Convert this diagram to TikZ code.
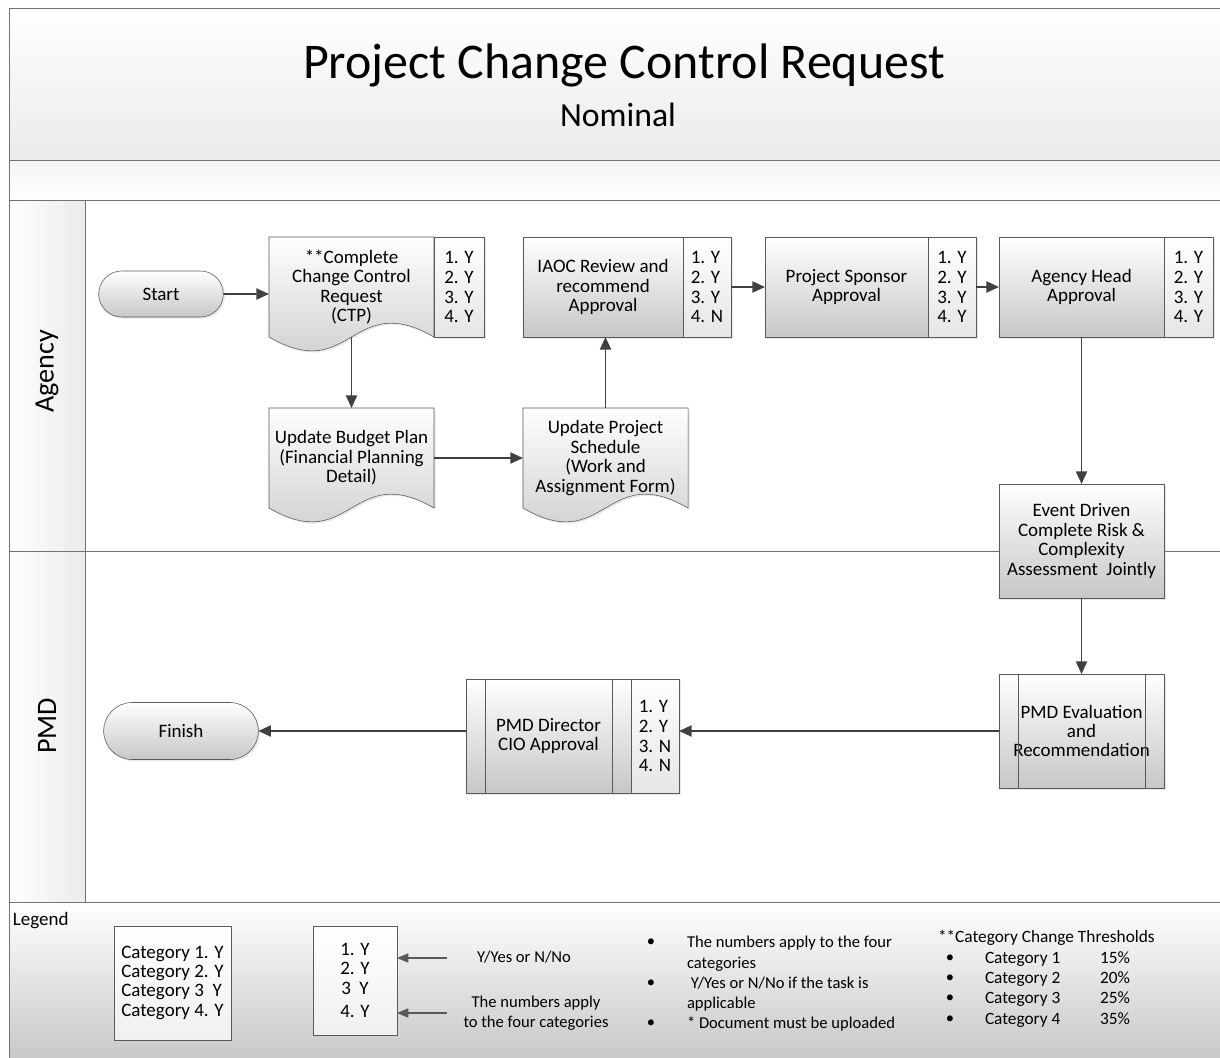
\documentclass[tikz,border=0pt]{standalone}
\usepackage{fontspec}
\setmainfont{Carlito}
\usetikzlibrary{positioning,arrows.meta,shapes.misc,shadows,backgrounds}

\begin{document}
\begin{tikzpicture}[x=0.025cm,y=-0.025cm,
  every node/.style={outer sep=0pt},
  txt/.style={font=\fontsize{13.5}{13.8}\selectfont, align=center},
  frame/.style={draw=black!55, line width=0.6pt},
  grad/.style={top color=white, bottom color=black!22,
    drop shadow={shadow xshift=1.2pt, shadow yshift=-1.2pt, opacity=0.18}},
  term/.style={rounded rectangle, draw=black!65, grad, txt},
  task/.style={rectangle, draw=black!65, grad, txt, minimum width=4.125cm, minimum height=2.85cm},
  doc/.style={rectangle, txt, minimum width=4.125cm, minimum height=2.5cm},
  docshape/.style={draw=black!65, grad},
  yn/.style={rectangle, draw=black!65, top color=white, bottom color=black!10,
    drop shadow={shadow xshift=1.2pt, shadow yshift=-1.2pt, opacity=0.18},
    font=\fontsize{13.5}{14.2}\selectfont, align=left, anchor=north west,
    minimum width=1.2cm, minimum height=2.5cm},
  flow/.style={draw=black!75, line width=1.1pt, -{Triangle[length=9pt,width=8pt]}},
  legbox/.style={rectangle, draw=black!65, top color=white, bottom color=black!6,
    drop shadow={shadow xshift=1pt, shadow yshift=-1pt, opacity=0.15},
    font=\fontsize{13.5}{13.6}\selectfont, align=left},
  legarrow/.style={draw=black!65, line width=0.8pt, -{Triangle[length=8pt,width=6.5pt]}},
  note/.style={font=\fontsize{11.8}{14}\selectfont, inner sep=0pt, anchor=west,
    text height=8.5pt, text depth=2.3pt},
  dot/.style={font=\fontsize{11.8}{14}\selectfont, inner sep=0pt}
]
\useasboundingbox (0,0) rectangle (1220,1057);

% Title band
\draw[frame, top color=white, bottom color=black!8] (9,8) rectangle (1226,160);
\node[anchor=base, font=\fontsize{35.5}{40}\selectfont] (title) at (624,79) {Project Change Control Request};
\node[anchor=base, font=\fontsize{24}{28}\selectfont] (subtitle) at (618,127) {Nominal};
\draw[frame, top color=black!4, bottom color=white] (9,160) rectangle (1226,200);

% Lanes
\draw[frame, left color=white, right color=black!8] (9,200) rectangle (85,902);
\draw[frame] (9,200) rectangle (1226,902);
\draw[frame] (9,551) -- (1226,551);
\node[rotate=90, font=\fontsize{20}{24}\selectfont] (agency) at (47,371) {Agency};
\node[rotate=90, font=\fontsize{20}{24}\selectfont] (pmd) at (47,726) {PMD};

% Legend band
\draw[frame, top color=white, bottom color=black!22] (9,902) rectangle (1226,1062);
\node[note] (legend) at (13,921) {\fontsize{13.5}{14}\selectfont Legend};

% Agency lane
\node[term, minimum width=3.35cm, minimum height=1.15cm] (start) at (161,294) {Start};
\node[doc] (ccr) at (351.5,287) {**Complete\\Change Control\\Request\\(CTP)};
\node[yn, minimum width=1.25cm] (ccrq) at (ccr.north east) {1. Y\\2. Y\\3. Y\\4. Y};
\node[task, minimum width=4cm, minimum height=2.5cm] (iaoc) at (603,287) {IAOC Review and\\recommend\\Approval};
\node[yn] (iaocq) at (iaoc.north east) {1. Y\\2. Y\\3. Y\\4. N};
\node[task, minimum width=4.075cm, minimum height=2.5cm] (sponsor) at (846.5,287) {Project Sponsor\\Approval};
\node[yn] (sponsorq) at (sponsor.north east) {1. Y\\2. Y\\3. Y\\4. Y};
\node[task, minimum width=4.125cm, minimum height=2.5cm] (ahead) at (1081.5,287) {Agency Head\\Approval};
\node[yn, minimum width=1.225cm] (aheadq) at (ahead.north east) {1. Y\\2. Y\\3. Y\\4. Y};
\node[doc] (budget) at (351.5,458) {Update Budget Plan\\(Financial Planning\\Detail)};
\node[doc] (sched) at (605.5,458) {Update Project\\Schedule\\(Work and\\Assignment Form)};
\node[task] (event) at (1081.5,541) {Event Driven\\Complete Risk \&\\Complexity\\Assessment\ \ Jointly};

% PMD lane
\node[task] (eval) at (1081.5,731) {PMD Evaluation\\and\\Recommendation};
\node[task] (pmdd) at (548.5,736) {PMD Director\\CIO Approval};
\node[yn, minimum height=2.85cm] (pmddq) at (pmdd.north east) {1. Y\\2. Y\\3. N\\4. N};
\node[term, minimum width=4.1cm, minimum height=1.425cm] (finish) at (181,731) {Finish};
\foreach \n in {eval,pmdd} {
  \draw[draw=black!65] ([shift={(19,0)}]\n.north west) -- ([shift={(19,0)}]\n.south west);
  \draw[draw=black!65] ([shift={(-19,0)}]\n.north east) -- ([shift={(-19,0)}]\n.south east);
}

% Document shapes
\begin{scope}[on background layer]
\foreach \n in {ccr,budget,sched}
  \draw[docshape] (\n.north west) -- (\n.north east) -- (\n.south east)
    .. controls ([shift={(0,-48)}]\n.south) and ([shift={(0,48)}]\n.south) .. (\n.south west) -- cycle;
\end{scope}

% Arrows
\draw[flow] (start) -- (start -| ccr.west);
\draw[flow] (ccr) -- (budget);
\draw[flow] (budget) -- (sched);
\draw[flow] (sched) -- (sched |- iaoc.south);
\draw[flow] (iaocq) -- (sponsor);
\draw[flow] (sponsorq) -- (ahead);
\draw[flow] (ahead) -- (ahead |- event.north);
\draw[flow] (event) -- (eval);
\draw[flow] (eval) -- (eval -| pmddq.east);
\draw[flow] (pmdd.west |- finish) -- (finish);

% Legend
\node[legbox, minimum width=2.925cm, minimum height=2.85cm] (catbox) at (172.5,983)
  {Category 1. Y\\Category 2. Y\\Category 3\ \ Y\\[1pt]Category 4. Y};
\node[legbox, align=center, minimum width=2.1cm, minimum height=2.725cm] (legq) at (355,980.5)
  {1. Y\\2. Y\\3\ \ Y\\[3pt]4. Y};
\coordinate (ynfrom) at (447,958);
\coordinate (numfrom) at (447,1013);
\draw[legarrow] (ynfrom) -- (ynfrom -| legq.east);
\draw[legarrow] (numfrom) -- (numfrom -| legq.east);
\node[note, anchor=center] (ynlbl) at (524,958) {Y/Yes or N/No};
\node[note, anchor=center, align=center, text height=, text depth=] (numlbl) at (536,1013)
  {The numbers apply\\to the four categories};

\node[dot] (b1) at (651,943) {\textbullet};
\node[note] (n1a) at (687,943) {The numbers apply to the four};
\node[note] (n1b) at (687,964) {categories};
\node[dot] (b2) at (651,984) {\textbullet};
\node[note] (n2a) at (687,984) {\ Y/Yes or N/No if the task is};
\node[note] (n2b) at (687,1004) {applicable};
\node[dot] (b3) at (651,1024) {\textbullet};
\node[note] (n3) at (687,1024) {* Document must be uploaded};

\node[note, font=\fontsize{12.3}{14}\selectfont] (thr) at (938,938) {**Category Change Thresholds};
\foreach \k/\p/\y in {1/15/959,2/20/979,3/25/999,4/35/1020} {
  \node[dot] (thrb\k) at (950,\y) {\textbullet};
  \node[note, font=\fontsize{12.3}{14}\selectfont] (thrc\k) at (985,\y) {Category \k};
  \node[note, font=\fontsize{12.3}{14}\selectfont] (thrp\k) at (1100,\y) {\p\%};
}
\end{tikzpicture}
\end{document}
